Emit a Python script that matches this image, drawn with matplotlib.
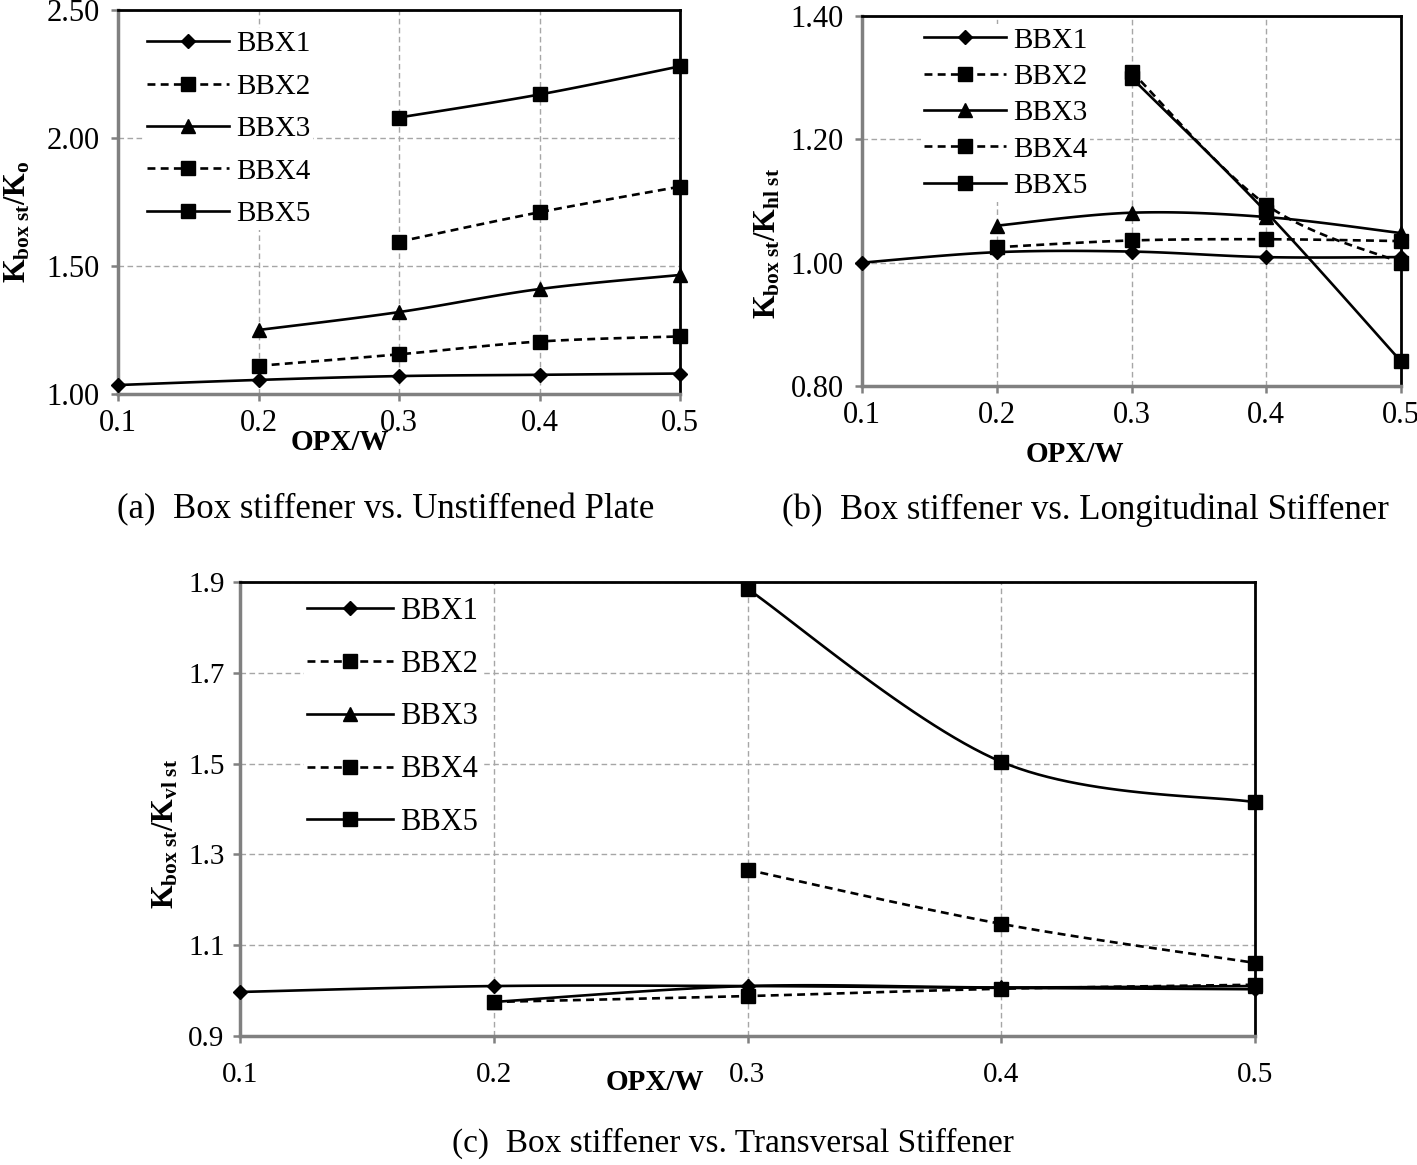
import numpy as np
import matplotlib
matplotlib.use("Agg")
import matplotlib.pyplot as plt
from matplotlib.ticker import FormatStrFormatter

plt.rcParams['font.family'] = ['Liberation Serif', 'DejaVu Serif']
plt.rcParams['mathtext.fontset'] = 'custom'
plt.rcParams['mathtext.rm'] = 'Liberation Serif'
plt.rcParams['mathtext.bf'] = 'Liberation Serif:bold'
plt.rcParams['mathtext.it'] = 'Liberation Serif:italic'

opx = [0.1, 0.2, 0.3, 0.4, 0.5]
series = ['BBX1', 'BBX2', 'BBX3', 'BBX4', 'BBX5']
nan = np.nan

# (a) Box stiffener vs. Unstiffened Plate
a_bbx1 = [1.035, 1.055, 1.07, 1.075, 1.08]
a_bbx2 = [nan, 1.11, 1.155, 1.205, 1.225]
a_bbx3 = [nan, 1.25, 1.32, 1.41, 1.465]
a_bbx4 = [nan, nan, 1.595, 1.71, 1.81]
a_bbx5 = [nan, nan, 2.08, 2.17, 2.28]

# (b) Box stiffener vs. Longitudinal Stiffener
b_bbx1 = [1.0, 1.017, 1.018, 1.009, 1.009]
b_bbx2 = [nan, 1.025, 1.036, 1.038, 1.035]
b_bbx3 = [nan, 1.06, 1.081, 1.074, 1.048]
b_bbx4 = [nan, nan, 1.31, 1.094, 1.0]
b_bbx5 = [nan, nan, 1.30, 1.082, 0.84]

# (c) Box stiffener vs. Transversal Stiffener
c_bbx1 = [0.997, 1.010, 1.010, 1.006, 1.003]
c_bbx2 = [nan, 0.975, 0.988, 1.004, 1.013]
c_bbx3 = [nan, 0.975, 1.010, 1.007, 1.010]
c_bbx4 = [nan, nan, 1.266, 1.147, 1.061]
c_bbx5 = [nan, nan, 1.885, 1.504, 1.415]

dash = (0, (3, 2))
styles = [
    dict(ls='-', marker='D', ms=7.5),
    dict(ls=dash, marker='s', ms=9.5),
    dict(ls='-', marker='^', ms=9.5),
    dict(ls=dash, marker='s', ms=9.5),
    dict(ls='-', marker='s', ms=9.5),
]

W, H = 1417, 1165


def smooth(x, y, n=30):
    # Catmull-Rom curve through the points (like Excel "smoothed line")
    x = np.asarray(x, float)
    y = np.asarray(y, float)
    if len(x) < 3:
        return x, y
    px = np.concatenate([[x[0]], x, [x[-1]]])
    py = np.concatenate([[y[0]], y, [y[-1]]])
    xs, ys = [], []
    t = np.linspace(0, 1, n)
    for i in range(1, len(px) - 2):
        for p, out in ((px, xs), (py, ys)):
            p0, p1, p2, p3 = p[i - 1], p[i], p[i + 1], p[i + 2]
            out.append(0.5 * ((2 * p1) + (-p0 + p2) * t +
                              (2 * p0 - 5 * p1 + 4 * p2 - p3) * t ** 2 +
                              (-p0 + 3 * p1 - 3 * p2 + p3) * t ** 3))
    return np.concatenate(xs), np.concatenate(ys)


def draw(ax, data, ylim, yticks, yfmt, tick_fs, ypad, xpad,
         leg_fs, leg_sp, leg_xy):
    for name, vals, st in zip(series, data, styles):
        vals = np.asarray(vals, float)
        m = ~np.isnan(vals)
        xv = np.asarray(opx)[m]
        yv = vals[m]
        sx, sy = smooth(xv, yv)
        ax.plot(sx, sy, color='black', lw=1.9, ls=st['ls'], zorder=3)
        ax.plot(xv, yv, ls='none', marker=st['marker'], ms=st['ms'],
                color='black', zorder=4, clip_on=False)
        ax.plot([], [], color='black', lw=1.9, ls=st['ls'], marker=st['marker'],
                ms=st['ms'], label=name)
    ax.set_xlim(0.1, 0.5)
    ax.set_ylim(*ylim)
    ax.set_xticks(opx)
    ax.set_yticks(yticks)
    ax.xaxis.set_major_formatter(FormatStrFormatter('%.1f'))
    ax.yaxis.set_major_formatter(FormatStrFormatter(yfmt))
    ax.grid(True, ls=(0, (4, 2.5)), color='#a6a6a6', lw=1)
    ax.set_axisbelow(True)
    for s in ('left', 'bottom'):
        ax.spines[s].set_color('#808080')
        ax.spines[s].set_linewidth(2.5)
    for s in ('top', 'right'):
        ax.spines[s].set_color('black')
        ax.spines[s].set_linewidth(2)
    ax.tick_params(direction='out', length=5, width=1.8, color='#808080',
                   labelsize=tick_fs)
    ax.tick_params(axis='y', pad=ypad)
    ax.tick_params(axis='x', pad=xpad)
    leg = ax.legend(loc='center left', frameon=True, fontsize=leg_fs,
                    bbox_to_anchor=(leg_xy[0] / W, 1 - leg_xy[1] / H),
                    bbox_transform=fig.transFigure,
                    handlelength=2.8, borderaxespad=0, borderpad=0.1,
                    labelspacing=leg_sp, handletextpad=0.25)
    leg.get_frame().set_edgecolor('none')
    leg.get_frame().set_facecolor('white')
    leg.get_frame().set_alpha(1)
    leg.set_zorder(2)


fig = plt.figure(figsize=(W / 100, H / 100), dpi=100)


def rect(l, t, r, b):
    return [l / W, 1 - b / H, (r - l) / W, (b - t) / H]


ax_a = fig.add_axes(rect(118, 10, 680, 394))
ax_b = fig.add_axes(rect(862, 16, 1401, 386))
ax_c = fig.add_axes(rect(240, 582, 1255, 1036))

draw(ax_a, [a_bbx1, a_bbx2, a_bbx3, a_bbx4, a_bbx5], (1.0, 2.5),
     [1.0, 1.5, 2.0, 2.5], '%.2f', 22, 8, 6, 21, 0.55, (144, 129))
draw(ax_b, [b_bbx1, b_bbx2, b_bbx3, b_bbx4, b_bbx5], (0.8, 1.4),
     [0.8, 1.0, 1.2, 1.4], '%.2f', 22, 8, 6, 21, 0.34, (921, 113))
draw(ax_c, [c_bbx1, c_bbx2, c_bbx3, c_bbx4, c_bbx5], (0.9, 1.9),
     [0.9, 1.1, 1.3, 1.5, 1.7, 1.9], '%.1f', 21, 6, 14, 22, 0.78, (304, 717))

ylab_fs = 22
fig.text(33 / W, 1 - 222 / H, r'$\mathbf{K_{box\ st}/K_{o}}$', fontsize=ylab_fs,
         rotation=90, ha='right', va='center')
fig.text(783 / W, 1 - 243 / H, r'$\mathbf{K_{box\ st}/K_{hl\ st}}$', fontsize=ylab_fs,
         rotation=90, ha='right', va='center')
fig.text(181 / W, 1 - 834 / H, r'$\mathbf{K_{box\ st}/K_{vl\ st}}$', fontsize=ylab_fs,
         rotation=90, ha='right', va='center')

fig.text(340 / W, 1 - 442 / H, 'OPX/W', fontsize=21, fontweight='bold',
         ha='center', va='center')
fig.text(1075 / W, 1 - 455 / H, 'OPX/W', fontsize=21, fontweight='bold',
         ha='center', va='center')
fig.text(655 / W, 1 - 1082 / H, 'OPX/W', fontsize=21, fontweight='bold',
         ha='center', va='center')

fig.text(386 / W, 1 - 510 / H, '(a)  Box stiffener vs. Unstiffened Plate',
         fontsize=25, ha='center', va='center')
fig.text(1085 / W, 1 - 510 / H, '(b)  Box stiffener vs. Longitudinal Stiffener',
         fontsize=25, ha='center', va='center')
fig.text(733 / W, 1 - 1143 / H, '(c)  Box stiffener vs. Transversal Stiffener',
         fontsize=24, ha='center', va='center')

fig.savefig('out.png', dpi=100)
